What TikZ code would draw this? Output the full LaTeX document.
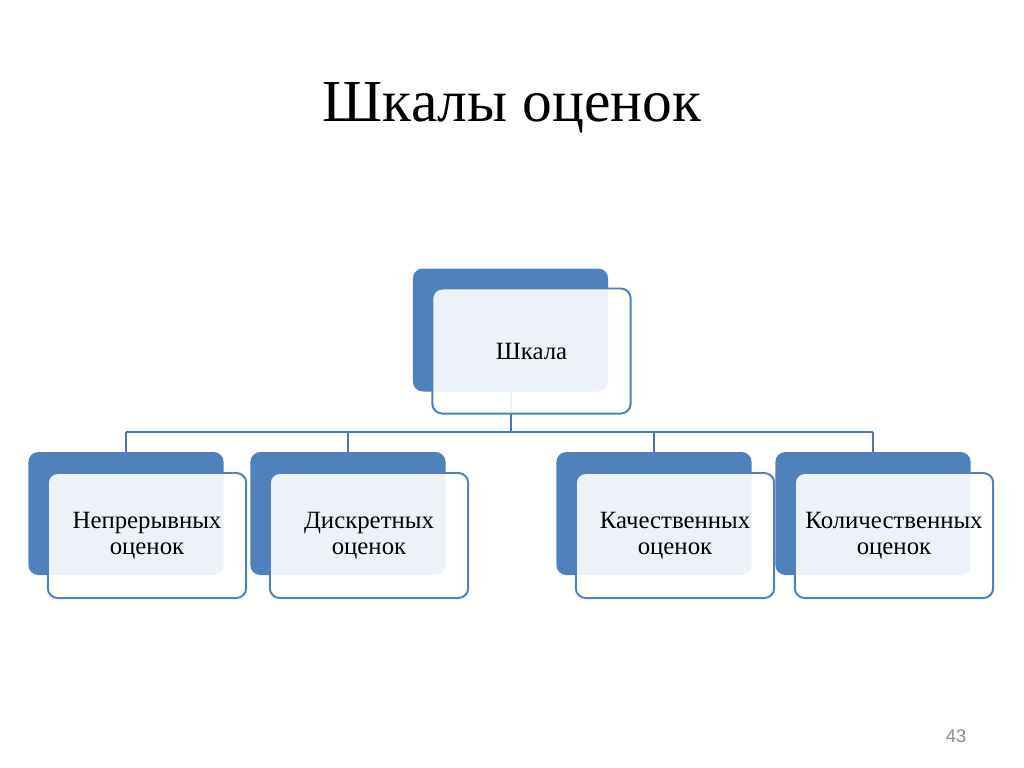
\documentclass[tikz,border=0pt]{standalone}
\usepackage{fontspec}
\setmainfont{Liberation Serif}
\newfontfamily\numfont{Liberation Sans}
\usepackage{tikz}
\usetikzlibrary{calc}

\definecolor{scaleblue}{HTML}{4F81BD}
\definecolor{linkblue}{HTML}{4A76AE}

\begin{document}
\begin{tikzpicture}[
  x=0.0248cm, y=-0.0248cm,
  back/.style={fill=scaleblue, rounded corners=7pt, minimum width=4.84cm,
               minimum height=3.05cm, inner sep=0pt},
  front/.style={draw=scaleblue, line width=1.4pt, fill=white, fill opacity=0.9,
                text opacity=1, rounded corners=7pt, minimum width=4.92cm,
                minimum height=3.1cm, align=center,
                font=\fontsize{17.5}{18.5}\selectfont},
  link/.style={draw=linkblue, line width=1.4pt}
]
  \useasboundingbox[fill=white] (0,0) rectangle (1024,767);

  \node[anchor=base, font=\fontsize{42}{46}\selectfont] (title) at (512,121) {Шкалы оценок};

  % back plates
  \node[back] (sbk) at (510.5,330) {};
  \node[back] (k1bk) at (126,513.5) {};
  \node[back] (k2bk) at (348,513.5) {};
  \node[back] (k3bk) at (654,513.5) {};
  \node[back] (k4bk) at (873,513.5) {};

  % connectors
  \coordinate (bus) at (510.5,432);
  \draw[link] (sbk.south) -- (bus);
  \draw[link] (k1bk.north |- bus) -- (k4bk.north |- bus);
  \foreach \k in {k1,k2,k3,k4}
    \draw[link] (\k bk.north) -- (\k bk.north |- bus);

  % front cards
  \node[front] (sfr) at ($(sbk.center)+(21,21)$) {Шкала};
  \node[front] (k1fr) at ($(k1bk.center)+(21,22)$) {Непрерывных\\оценок};
  \node[front] (k2fr) at ($(k2bk.center)+(21,22)$) {Дискретных\\оценок};
  \node[front] (k3fr) at ($(k3bk.center)+(21,22)$) {Качественных\\оценок};
  \node[front] (k4fr) at ($(k4bk.center)+(21,22)$) {Количественных\\оценок};

  \node[anchor=base, text=black!45, font=\numfont\fontsize{13}{15}\selectfont] (pagenum) at (956,742) {43};
\end{tikzpicture}
\end{document}
